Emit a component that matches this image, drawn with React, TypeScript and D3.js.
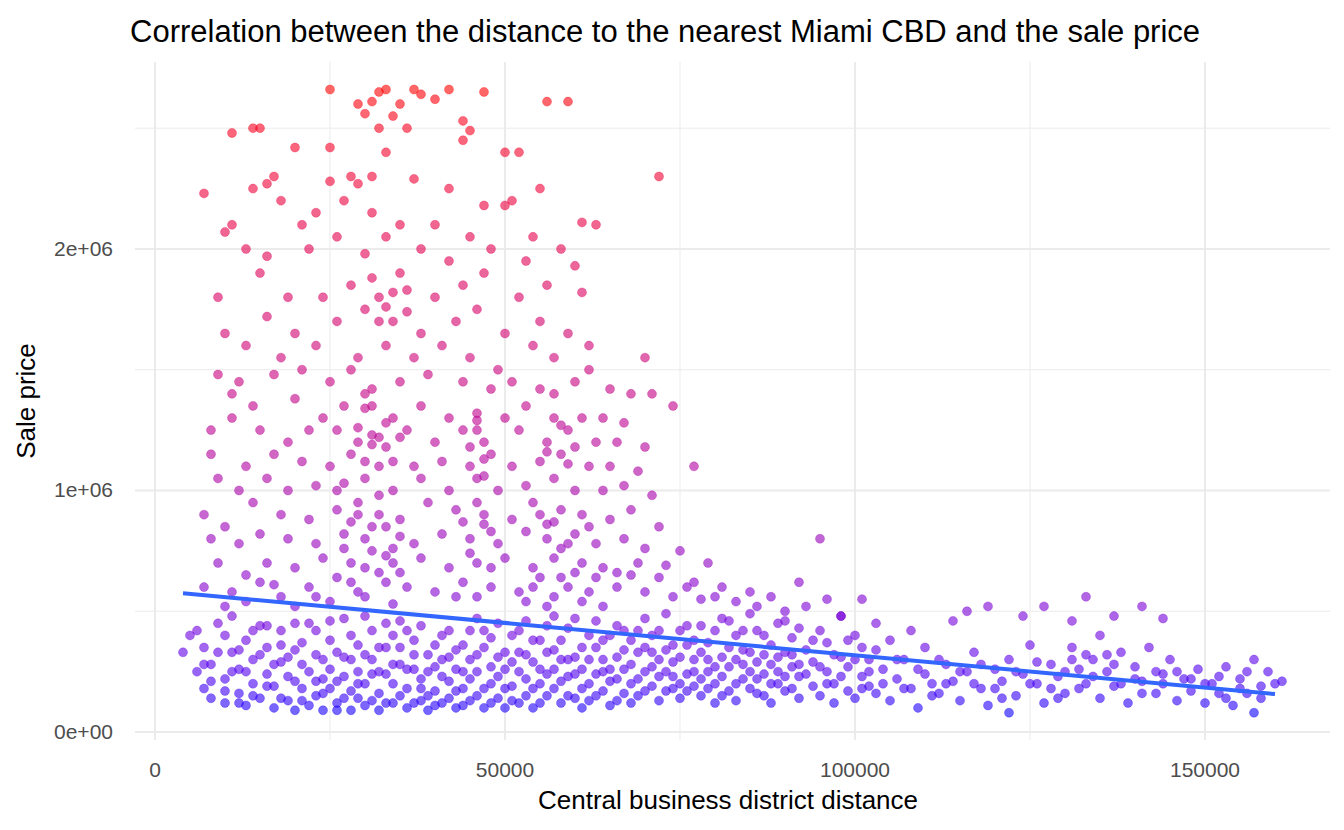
import React from 'react';
import * as d3 from 'd3';

// [distance in thousands, price in thousands]
const highPoints: [number, number][] = [
  [25,2660],[32,2650],[33,2660],[37,2660],[38,2640],[42,2660],[47,2650],[29,2600],[31,2610],[35,2600],[40,2620],[56,2610],[59,2610],[30,2560],[34,2550],[44,2530],[45,2490],[14,2500],[15,2500],[11,2480],[32,2500],[36,2500],[50,2400],[52,2400],[20,2420],[25,2420],[33,2400],[44,2450],[28,2300],[31,2300],[37,2290],[17,2300],[42,2250],[55,2250],[72,2300],[7,2230],[14,2250],[16,2270],[25,2280],[29,2270],[47,2180],[51,2200],[61,2110],[63,2100],[11,2100],[18,2200],[23,2150],[27,2200],[31,2150],[35,2100],[40,2100],[45,2050],[50,2180],[54,2050],[10,2070],[21,2100],[26,2050],[33,2050],[38,2000],[48,2000],[58,2000],[13,2000],[16,1970],[22,2000],[30,1980],[42,1950],[53,1950],[60,1930],[9,1800],[15,1900],[19,1800],[24,1800],[28,1850],[32,1800],[36,1830],[40,1800],[44,1850],[47,1900],[52,1800],[56,1850],[61,1820],[16,1720],[20,1650],[26,1700],[30,1750],[34,1700],[38,1650],[43,1700],[46,1750],[50,1650],[55,1700],[59,1650],[62,1600],[10,1650],[13,1600],[18,1550],[23,1600],[29,1550],[33,1600],[37,1550],[41,1600],[45,1550],[49,1500],[54,1600],[57,1550],[62,1500],[70,1550],[9,1480],[12,1450],[17,1480],[21,1500],[25,1450],[28,1500],[31,1420],[35,1450],[39,1480],[44,1450],[48,1420],[51,1450],[55,1420],[60,1450],[65,1420],[68,1400],[71,1400],[74,1350],[11,1400],[14,1350],[20,1380],[24,1300],[27,1350],[31,1350],[34,1300],[38,1350],[42,1300],[46,1320],[50,1300],[53,1350],[57,1300],[61,1300],[64,1300],[67,1280],[8,1250],[11,1300],[15,1250],[19,1200],[22,1250],[26,1250],[29,1200],[32,1220],[36,1250],[40,1200],[44,1250],[47,1200],[52,1250],[56,1200],[59,1250],[63,1200],[66,1200],[70,1180],[77,1100],[8,1150],[13,1100],[17,1150],[21,1120],[25,1100],[28,1150],[30,1120],[33,1180],[37,1100],[41,1120],[45,1100],[48,1150],[51,1100],[55,1120],[58,1150],[62,1100],[65,1100],[69,1080],[9,1050],[12,1000],[16,1050],[19,1000],[23,1020],[26,1000],[30,1050],[34,1000],[38,1050],[42,1000],[46,1050],[49,1000],[53,1020],[57,1050],[60,1000],[64,1000],[67,1020],[71,980],
  [31,1880],[33,1760],[35,1900],[29,1260],[30,1400],[32,1100],[46,1250],[47,1060],[45,1180],[57,1400],[58,1270],[60,1180],[27,1030],[31,1230],[34,1120],
  [30,1340],[31,1190],[33,1280],[35,1220],[46,1290],[47,1130],[56,1160],[59,1110],[32,1700],[34,1820],[36,1740],
];

const midPoints: [number, number][] = [
  [7,900],[10,850],[14,950],[18,900],[22,880],[26,920],[29,950],[32,900],[35,880],[39,950],[43,920],[47,900],[51,880],[54,950],[58,920],[61,900],[65,880],[68,920],[72,850],[8,800],[12,780],[15,820],[19,800],[23,780],[27,820],[30,800],[33,850],[37,780],[41,820],[45,800],[49,780],[53,830],[56,800],[60,820],[63,780],[67,800],[70,760],[75,750],[79,700],[95,800],[9,700],[13,650],[16,700],[20,680],[24,720],[28,700],[31,750],[34,700],[38,720],[42,680],[46,700],[50,720],[54,680],[57,720],[61,700],[64,680],[68,650],[72,640],[77,620],[81,600],[85,580],[92,620],[7,600],[11,580],[15,620],[18,560],[22,600],[26,640],[29,580],[33,620],[36,600],[40,580],[44,620],[48,600],[52,580],[55,640],[59,600],[62,580],[66,600],[70,580],[74,560],[78,550],[83,540],[88,560],[96,550],[101,550],[116,500],[119,520],[127,520],[133,560],[141,520],[144,470],[137,480],[124,480],[114,460],[108,420],[131,460],
  [28,870],[30,680],[32,980],[34,760],[45,740],[47,860],[56,860],[58,760],[60,660],[25,540],[27,760],[35,660],[43,560],[53,540],[57,560],[63,640],[69,700],[73,690],[76,600],[80,560],
  [29,900],[31,850],[33,730],[35,810],[44,870],[46,950],[48,830],[55,900],[57,870],[59,780],[62,850],[28,620],[30,560],[32,660],[34,530],[46,560],[48,680],[54,600],[56,520],[58,640],[61,540],[64,520],[66,660],[20,520],[23,560],[17,610],[13,540],[10,520],[86,520],[90,500],[98,480],
];

const lowPoints: [number, number][] = [
  [4,330],[5,400],[6,250],[7,180],[7,350],[8,140],[8,280],[9,450],[10,120],[10,220],[11,330],[11,480],[12,160],[12,260],[13,380],[13,110],[14,200],[14,300],[15,440],[15,140],[16,240],[16,350],[17,100],[17,190],[18,290],[18,420],[19,130],[19,230],[20,340],[20,90],[21,180],[21,280],[22,450],[22,110],[23,210],[23,320],[24,90],[24,160],[25,260],[25,380],[26,120],[26,210],[27,310],[27,470],[28,90],[28,170],[29,250],[29,360],[30,110],[30,200],[31,300],[31,420],[32,90],[32,160],[33,240],[33,350],[34,120],[34,200],[35,280],[35,460],[36,100],[36,180],[37,260],[37,380],[38,130],[38,220],[39,320],[39,90],[40,170],[40,270],[41,400],[41,120],[42,210],[42,310],[43,100],[43,170],[44,250],[44,360],[45,130],[45,220],[46,320],[46,470],[47,100],[47,180],[48,270],[48,390],[49,140],[49,230],[50,330],[50,100],[51,190],[51,290],[52,420],[52,120],[53,220],[53,320],[54,100],[54,180],[55,260],[55,380],[56,150],[56,240],[57,340],[57,480],[58,120],[58,210],[59,300],[59,430],[60,140],[60,240],[61,350],[61,100],[62,200],[62,300],[63,460],[63,150],[64,250],[64,380],[65,110],[65,210],[66,310],[66,440],[67,160],[67,260],[68,380],[68,120],[69,220],[69,330],[70,470],[70,170],[71,270],[71,400],[72,130],[72,230],[73,340],[73,490],[74,180],[74,290],[75,420],[75,140],[76,240],[76,360],[77,190],[77,300],[78,440],[78,150],[79,250],[79,370],[80,120],[80,200],[81,310],[81,470],[82,170],[82,270],[83,400],[83,130],[84,220],[84,340],[85,490],[85,180],[86,290],[86,420],[87,150],[87,240],[88,360],[88,120],[89,200],[89,310],[90,460],[90,170],[91,270],[91,390],[92,140],[92,230],[93,340],[93,520],[94,190],[94,290],[95,420],[95,150],[96,250],[96,370],[97,120],[97,200],[98,310],[98,480],[99,170],[99,270],[100,400],[100,140],[101,230],[101,350],[102,190],[102,300],[103,450],[103,160],[104,260],[105,380],[105,130],[106,220],[107,300],[108,180],[109,100],[110,240],[110,350],[111,200],[112,160],[113,280],[114,210],[115,130],[116,250],[117,330],[118,180],[119,110],[120,260],[121,210],[122,300],[122,80],[123,150],[124,240],[125,360],[126,200],[127,120],[128,280],[129,230],[130,160],[131,350],[132,260],[133,200],[134,300],[135,140],[135,400],[136,250],[137,190],[138,330],[139,120],[140,270],[141,210],[142,350],[143,160],[144,240],[145,300],[146,130],[147,220],[148,170],[149,260],[150,120],[151,200],[152,160],[153,270],[154,110],[155,220],[156,160],[157,300],[157,80],[158,190],[159,250],[160,200],[161,210],
];

const lowPointsExtra: [number, number][] = [
  [6,420],[7,280],[8,210],[9,330],[10,170],[10,400],[11,250],[12,340],[12,120],[13,250],[14,420],[14,150],[15,320],[16,190],[16,440],[17,280],[18,140],[18,360],[19,310],[20,210],[20,450],[21,130],[21,370],[22,250],[23,150],[23,420],[24,300],[24,220],[25,180],[25,460],[26,330],[26,90],[27,230],[27,140],[28,300],[28,400],[29,140],[29,200],[30,320],[30,480],[31,130],[31,240],[32,350],[32,250],[33,120],[33,450],[34,280],[34,400],[35,150],[35,350],[36,260],[36,420],[37,120],[37,320],[38,180],[38,440],[39,250],[39,150],[40,360],[40,110],[41,230],[41,300],[42,140],[42,420],[43,260],[43,340],[44,180],[44,110],[45,300],[45,420],[46,150],[46,250],[47,350],[47,420],[48,200],[48,120],[49,310],[49,450],[50,180],[50,260],[51,130],[51,400],[52,250],[52,330],[53,150],[53,460],[54,290],[54,380],[55,120],[55,200],[56,330],[56,440],[57,180],[57,260],[58,380],[58,300],[59,150],[59,230],[60,310],[60,470],[61,180],[61,260],[62,400],[62,130],[63,240],[63,350],[64,170],[64,300],[65,260],[65,400],[66,130],[66,220],[67,340],[67,420],[68,200],[68,280],[69,150],[69,420],[70,250],[70,350],[71,190],[71,330],[72,300],[72,420],[73,170],[73,250],[74,360],[74,230],[75,200],[75,310],[76,170],[76,440],[77,250],[77,380],[78,220],[78,330],[79,180],[79,300],[80,270],[80,420],[81,150],[81,230],[82,350],[82,460],[83,200],[83,300],[84,280],[84,420],[85,250],[85,330],[86,160],[86,220],[87,320],[87,400],[88,200],[88,280],[89,250],[89,450],[90,230],[90,330],[91,180],[91,320],[92,280],[92,430],[93,240],[94,380],[95,270],[96,200],[97,320],[98,230],[99,380],[100,300],[101,180],[102,250],[103,340],[104,200],[106,300],[107,180],[109,260],[111,150],[112,300],[113,200],[115,250],[117,200],[118,280],[120,180],[121,140],[123,250],[125,200],[126,290],[128,180],[129,140],[130,250],[131,300],[132,180],[133,320],[134,230],[136,320],[137,280],[138,200],[140,220],[141,160],[143,250],[144,200],[146,250],[148,220],[150,200],[152,230],[153,140],[155,180],[156,250],[158,140],
];

const allPoints = [...lowPoints, ...lowPointsExtra, ...midPoints, ...highPoints];

// fitted line end points [distance, price]
const fitLine: [number, number][] = [[4, 575], [160, 157]];

const xTicks = [0, 50000, 100000, 150000];
const xMinor = [25000, 75000, 125000];
const yTicks = [0, 1e6, 2e6];
const yTickLabels = ['0e+00', '1e+06', '2e+06'];
const yMinor = [5e5, 1.5e6, 2.5e6];

const W = 1344, H = 830;
const left = 135, right = 1330, top = 62, bottom = 740;

export default function App() {
  const x = d3.scaleLinear().domain([-2857, 167857]).range([left, right]);
  const y = d3.scaleLinear().domain([-33000, 2774000]).range([bottom, top]);
  const color = d3.scaleLinear<string>().domain([70, 2660]).range(['blue', 'red'])
    .interpolate(d3.interpolateLab).clamp(true);
  const font = 'Helvetica, Arial, "Liberation Sans", sans-serif';

  return (
    <svg width={W} height={H} style={{ position: 'absolute', left: 0, top: 0, fontFamily: font }}>
      <rect width={W} height={H} fill="#fff" />
      {xMinor.map(t => <line key={'xm' + t} x1={x(t)} x2={x(t)} y1={top} y2={bottom} stroke="#ebebeb" strokeWidth={1} />)}
      {yMinor.map(t => <line key={'ym' + t} x1={left} x2={right} y1={y(t)} y2={y(t)} stroke="#ebebeb" strokeWidth={1} />)}
      {xTicks.map(t => <line key={'x' + t} x1={x(t)} x2={x(t)} y1={top} y2={bottom} stroke="#ebebeb" strokeWidth={2} />)}
      {yTicks.map(t => <line key={'y' + t} x1={left} x2={right} y1={y(t)} y2={y(t)} stroke="#ebebeb" strokeWidth={2} />)}

      {allPoints.map(([d, p], i) => (
        <circle key={i} cx={x(d * 1000)} cy={y(p * 1000)} r={4.5}
          fill={color(p)} fillOpacity={0.6} stroke={color(p)} strokeOpacity={0.6} strokeWidth={0.5} />
      ))}

      <line x1={x(fitLine[0][0] * 1000)} y1={y(fitLine[0][1] * 1000)}
        x2={x(fitLine[1][0] * 1000)} y2={y(fitLine[1][1] * 1000)}
        stroke="#3366FF" strokeWidth={4} />

      {xTicks.map(t => (
        <text key={'xl' + t} x={x(t)} y={777} textAnchor="middle" fontSize={21} fill="#4d4d4d">{t}</text>
      ))}
      {yTicks.map((t, i) => (
        <text key={'yl' + t} x={113} y={y(t) + 7} textAnchor="end" fontSize={21} fill="#4d4d4d">{yTickLabels[i]}</text>
      ))}

      <text x={728} y={809} textAnchor="middle" fontSize={26} fill="#000">Central business district distance</text>
      <text transform="translate(35,401) rotate(-90)" textAnchor="middle" fontSize={26} fill="#000">Sale price</text>
      <text x={130} y={42} fontSize={31} fill="#000">Correlation between the distance to the nearest Miami CBD and the sale price</text>
    </svg>
  );
}
